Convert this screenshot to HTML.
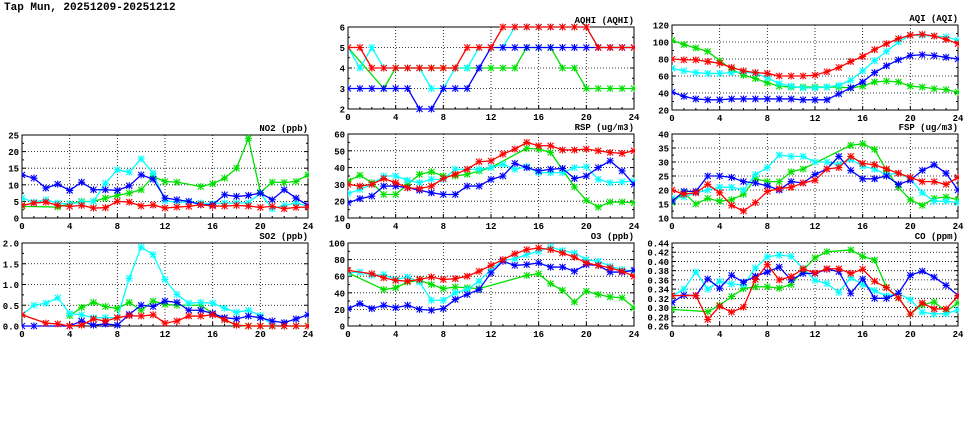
<!DOCTYPE html>
<html><head><meta charset="utf-8"><style>
html,body{margin:0;padding:0;background:#fff;width:975px;height:447px;overflow:hidden}
svg{display:block}
text{font-family:"Liberation Mono","DejaVu Sans Mono",monospace;font-weight:bold;fill:#000}
</style></head><body>
<svg id="chart" width="975" height="447">
<text x="4" y="10" font-size="11">Tap Mun, 20251209-20251212</text>
</svg>
<script>
const hours=[0,1,2,3,4,5,6,7,8,9,10,11,12,13,14,15,16,17,18,19,20,21,22,23,24];
const xTicks=[0,4,8,12,16,20,24];
const N=null;
const aqhiRed=[5,5,4,4,4,4,4,4,4,4,5,5,5,6,6,6,6,6,6,6,6,5,5,5,5];
const aqhiCyan=[5,4,5,4,4,4,4,3,3,4,4,5,5,5,6,6,6,6,6,6,6,5,5,5,5];
const aqhiGreen=[5,N,N,3,4,4,4,4,4,4,4,4,4,4,4,5,5,5,4,4,3,3,3,3,3];
const aqhiBlue=[3,3,3,3,3,3,2,2,3,3,3,4,5,5,5,5,5,5,5,5,5,5,5,5,5];
const aqiRed=[80,79,79,77,75,70,66,64,63,60,60,60,61,65,70,77,83,91,98,104,108,109,107,103,98];
const aqiCyan=[69,66,64,63,63,64,65,63,58,51,48,46,46,47,49,55,66,78,89,100,108,108,107,106,102];
const aqiGreen=[102,97,93,89,78,68,61,57,52,48,47,47,47,47,47,46,48,53,54,53,48,47,45,44,41];
const aqiBlue=[41,36,33,32,32,33,33,33,33,33,33,32,32,32,39,46,53,64,72,79,84,85,84,82,80];
const no2Red=[3.8,4.5,4.8,3.8,3.5,3.8,3,3.1,5,4.8,3.6,3.9,3,3.3,3.5,4,3.6,3.6,3.8,3.6,3.2,3.5,2.8,3.2,3.3];
const no2Cyan=[6,4.8,5.5,4.5,4.2,4.8,5,10.5,14.5,13.8,17.8,13.5,5.2,4.8,4.8,4.5,4.3,4.5,4.5,4.6,7.5,2.8,3.8,4.5,3.6];
const no2Green=[3.5,N,N,3.3,4.3,5,5,6,6.8,7.5,8.5,12.5,11,10.8,N,9.5,10.3,12,15,24,7.7,10.8,10.7,11,13];
const no2Blue=[13,12,9,10.2,8.3,10.8,8.5,8.5,8.3,9.7,13,11.7,6,5.5,5,4,4,7,6.5,6.8,7.5,5.5,8.5,6,3.8];
const rspRed=[30,29,30,33.5,31,28,27.5,29,33.5,36,39,43.5,44,48,51,55,53,53,50.5,50.5,51,50,49,48.5,50];
const rspCyan=[24.5,27,30,35,35,32.5,31,33,33,39,39,39,40,42,39,40.5,37,37,37,40,40.5,33,31,31.5,32];
const rspGreen=[32,35.5,31,24,24,30,36,37.5,35,35,36,38,40,N,N,51.5,51,49,N,28.5,20.5,16.5,19.5,19.5,19];
const rspBlue=[19,21.5,23,29,29,28,26.5,25,24,24,29,29,33,35,42.5,40,38,39,39.5,33.5,35,40,44,38,30];
const fspRed=[20,18.5,19,22,19,14.5,12.5,15.5,19.5,20.5,21,22.5,23.5,27.5,28,32,29.5,29,27.5,26,24.5,23,23,22,24.5];
const fspCyan=[17,17.5,19,20,21,21,20,25.5,28,32.5,32,32,30,30,29,31,28.5,27.5,25.5,26,24,19,16,16,15.5];
const fspGreen=[15.5,19,15,17,16,16.5,18.5,24,23,23,26.5,27.5,N,N,N,36,36.5,34.5,27,21,16.5,14.5,17,17.5,16.5];
const fspBlue=[16,19.5,19.5,25,25,24.5,23,22.5,21.5,20,23,22.5,25.5,27.5,32,27,24,24,25,22,23.5,27,29,26,20];
const so2Red=[0.27,N,0.07,0.05,0,0.02,0.17,0.12,0.2,0.25,0.24,0.27,0.07,0.12,0.24,0.24,0.27,0.15,0.02,0,0,0,0,0,0];
const so2Cyan=[0.27,0.5,0.55,0.68,0.3,0.27,0.2,0.2,0.2,1.15,1.9,1.72,1.12,0.76,0.55,0.57,0.55,0.43,0.33,0.38,0.25,0.02,0,0,0];
const so2Green=[N,N,N,N,0.25,0.45,0.57,0.47,0.42,0.57,0.38,0.6,0.52,0.5,N,0.5,0.3,0.15,0.02,0,0,0,0,0,0];
const so2Blue=[0,0,N,N,0,0.12,0.02,0.05,0.02,0.28,0.5,0.47,0.6,0.57,0.38,0.38,0.3,0.2,0.17,0.24,0.2,0.12,0.08,0.17,0.27];
const o3Red=[67,N,63,58,55,54,56,59,56,57,60,66,73,80,87,92,94,92,88,83,76,73,70,66,60];
const o3Cyan=[64,65,61,62,56,59,53,31,31,40,44,54,68,79,81,86,90,95,91,88,80,78,72,68,66];
const o3Green=[64,N,N,44,46,53,55,50,45,47,46,45,N,N,N,61,63,51,43,29,42,38,35,34,22];
const o3Blue=[21,27,21,25,22,25,20,19,21,32,38,44,64,78,73,74,76,71,71,66,74,73,65,65,67];
const coRed=[.326,N,.326,.274,.303,.290,.301,.361,.393,.360,.367,.384,.375,.384,.384,.374,.383,.357,.343,.321,.286,.310,.297,.297,.325];
const coCyan=[.325,.340,.377,.340,.357,.351,.349,.386,.410,.414,.411,.385,.359,.352,.333,.365,.350,.337,.325,.331,.317,.290,.286,.287,.295];
const coGreen=[.296,N,N,.291,.305,.324,.341,.345,.345,.342,.350,.381,.408,.421,N,.425,.411,.403,.344,.321,.286,.306,.312,.292,.310];
const coBlue=[.311,.327,.326,.362,.342,.370,.355,.368,.377,.388,.360,.374,.374,.383,.378,.331,.362,.320,.320,.331,.370,.379,.366,.348,.326];

const svg=document.getElementById('chart');
const NS='http://www.w3.org/2000/svg';
function mk(tag,attrs,parent){const e=document.createElementNS(NS,tag);for(const k in attrs)e.setAttribute(k,attrs[k]);(parent||svg).appendChild(e);return e;}

const panels=[
 {key:'aqhi',title:'AQHI (AQHI)',x:348,t:27,b:109,min:2,max:6,step:1,dec:0,s:[aqhiGreen,aqhiCyan,aqhiBlue,aqhiRed]},
 {key:'aqi',title:'AQI (AQI)',x:672,t:25,b:110,min:20,max:120,step:20,dec:0,s:[aqiGreen,aqiCyan,aqiBlue,aqiRed]},
 {key:'no2',title:'NO2 (ppb)',x:22,t:135,b:218,min:0,max:25,step:5,dec:0,s:[no2Green,no2Cyan,no2Blue,no2Red]},
 {key:'rsp',title:'RSP (ug/m3)',x:348,t:134,b:218,min:10,max:60,step:10,dec:0,s:[rspGreen,rspCyan,rspBlue,rspRed]},
 {key:'fsp',title:'FSP (ug/m3)',x:672,t:134,b:218,min:10,max:40,step:5,dec:0,s:[fspGreen,fspCyan,fspBlue,fspRed]},
 {key:'so2',title:'SO2 (ppb)',x:22,t:243,b:326,min:0,max:2,step:0.5,dec:1,s:[so2Green,so2Cyan,so2Blue,so2Red]},
 {key:'o3',title:'O3 (ppb)',x:348,t:243,b:326,min:0,max:100,step:20,dec:0,s:[o3Green,o3Cyan,o3Blue,o3Red]},
 {key:'co',title:'CO (ppm)',x:672,t:243,b:326,min:0.26,max:0.44,step:0.02,dec:2,s:[coGreen,coCyan,coBlue,coRed]}
];
const colors=['#00e000','#00ffff','#0000ff','#ff0000'];
const sNames=['green','cyan','blue','red'];
const W=286;

panels.forEach(p=>{
 const g=mk('g',{});
 
 
 const xs=h=>p.x+h/24*W;
 const ys=v=>p.b-(v-p.min)/(p.max-p.min)*(p.b-p.t);
 xTicks.forEach(h=>{
  if(h>0&&h<24){const l=mk('line',{x1:xs(h),x2:xs(h),y1:p.t,y2:p.b,stroke:'#000','stroke-width':0.8,'stroke-dasharray':'1,2'},g);
   }
  const t=mk('text',{x:xs(h),y:p.b+11,'font-size':9,'text-anchor':'middle'},g);t.textContent=h;
  
  mk('line',{x1:xs(h),x2:xs(h),y1:p.b,y2:p.b-4,stroke:'#000'},g);
 });
 for(let h=1;h<24;h++){if(h%4)mk('line',{x1:xs(h),x2:xs(h),y1:p.b,y2:p.b-2,stroke:'#000'},g);}
 const n=Math.round((p.max-p.min)/p.step);
 for(let i=0;i<=n;i++){
  const v=p.min+i*p.step,y=ys(v);
  if(i>0&&i<n){const l=mk('line',{x1:p.x,x2:p.x+W,y1:y,y2:y,stroke:'#000','stroke-width':0.8,'stroke-dasharray':'1,2'},g);
   }
  mk('line',{x1:p.x,x2:p.x+4,y1:y,y2:y,stroke:'#000'},g);
  mk('line',{x1:p.x+W,x2:p.x+W-4,y1:y,y2:y,stroke:'#000'},g);
  if(i<n){const ym=ys(v+p.step/2);mk('line',{x1:p.x,x2:p.x+2,y1:ym,y2:ym,stroke:'#000'},g);mk('line',{x1:p.x+W,x2:p.x+W-2,y1:ym,y2:ym,stroke:'#000'},g);}
  const t=mk('text',{x:p.x-3,y:y+3.5,'font-size':9,'text-anchor':'end'},g);t.textContent=v.toFixed(p.dec);
  
 }
 const fr=mk('rect',{x:p.x,y:p.t,width:W,height:p.b-p.t,fill:'none',stroke:'#000','stroke-width':1},g);
 
 const tt=mk('text',{x:p.x+W,y:p.t-4,'font-size':9,'text-anchor':'end'},g);tt.textContent=p.title;
 
 const cid='clip-'+p.key;const cp=mk('clipPath',{id:cid},g);mk('rect',{x:p.x,y:p.t-4,width:W+1,height:p.b-p.t+8},cp);
 p.s.forEach((arr,si)=>{
  const sg=mk('g',{'clip-path':'url(#'+cid+')'},g);
  
  
  const pts=[];arr.forEach((v,i)=>{if(v!==null)pts.push([xs(hours[i]),ys(v)]);});
  const pl=mk('polyline',{points:pts.map(q=>q.join(',')).join(' '),fill:'none',stroke:colors[si],'stroke-width':1.3},sg);
  
  pts.forEach(q=>{
   const m=mk('path',{d:`M${q[0]-3},${q[1]-3}L${q[0]+3},${q[1]+3}M${q[0]-3},${q[1]+3}L${q[0]+3},${q[1]-3}M${q[0]-3.5},${q[1]}L${q[0]+3.5},${q[1]}M${q[0]},${q[1]-3.5}L${q[0]},${q[1]+3.5}`,stroke:colors[si],'stroke-width':1.1,fill:'none'},sg);
   
  });
 });
});
</script>
</body></html>
